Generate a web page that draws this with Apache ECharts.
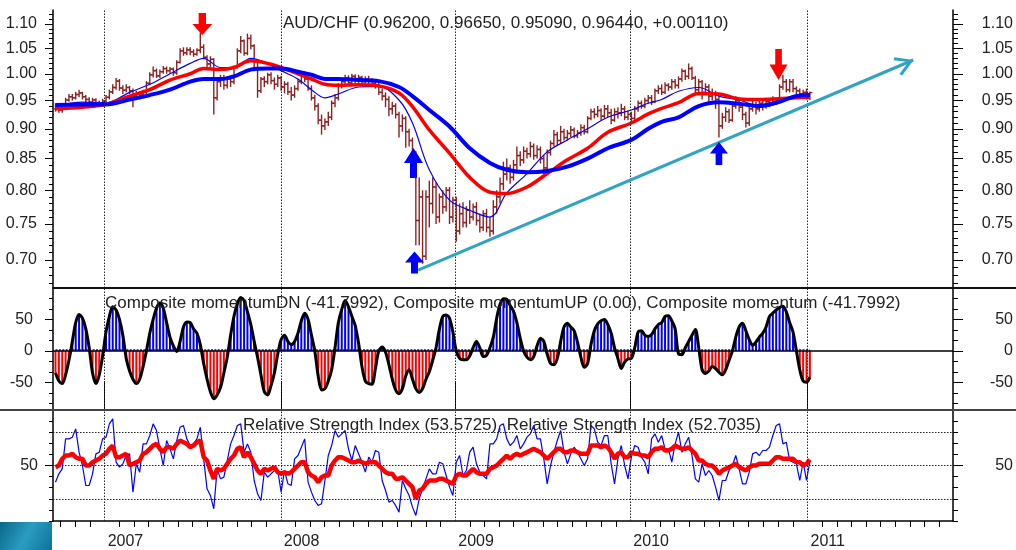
<!DOCTYPE html>
<html>
<head>
<meta charset="utf-8">
<script src="https://cdn.jsdelivr.net/npm/echarts@6/dist/echarts.min.js"></script>
<style>html,body{margin:0;padding:0;background:#fff}#main{width:1016px;height:550px}</style>
</head>
<body>
<div id="main"></div>
<script>
// weekly AUD/CHF bars, week 0 = mid Sept 2006 (x axis is in weeks)
var priceOpen = [
 0.935,0.938,0.933,0.936,0.951,0.957,0.955,0.961,0.964,0.957,
 0.952,0.947,0.951,0.946,0.944,0.949,0.956,0.966,0.974,0.986,
 0.973,0.969,0.974,0.968,0.958,0.963,0.960,0.966,0.982,0.998,
 1.006,0.996,1.004,1.010,1.006,1.009,1.002,1.022,1.045,1.041,
 1.047,1.043,1.038,1.046,1.052,1.032,1.019,1.028,0.955,0.985,
 0.992,0.978,0.990,0.985,1.012,1.045,1.065,1.040,1.070,1.055,
 1.010,0.968,0.990,0.985,0.998,0.987,0.980,0.992,0.975,0.980,
 0.966,0.960,0.972,0.985,0.998,0.990,0.972,0.955,0.940,0.915,
 0.905,0.912,0.920,0.945,0.955,0.978,0.985,0.992,0.983,0.995,
 0.988,0.993,0.985,0.990,0.986,0.982,0.978,0.965,0.958,0.952,
 0.935,0.940,0.925,0.905,0.918,0.895,0.880,0.860,0.755,0.790,
 0.705,0.790,0.780,0.805,0.760,0.790,0.775,0.800,0.760,0.785,
 0.740,0.765,0.752,0.770,0.760,0.775,0.755,0.745,0.765,0.745,
 0.740,0.775,0.790,0.810,0.825,0.835,0.820,0.840,0.855,0.848,
 0.862,0.858,0.870,0.855,0.865,0.850,0.835,0.860,0.875,0.890,
 0.880,0.895,0.885,0.892,0.898,0.888,0.893,0.902,0.895,0.918,
 0.930,0.925,0.932,0.922,0.935,0.928,0.915,0.930,0.928,0.935,
 0.920,0.925,0.918,0.935,0.945,0.940,0.950,0.955,0.948,0.968,
 0.972,0.965,0.978,0.975,0.985,0.978,0.990,1.005,0.995,1.010,
 0.992,0.970,0.985,0.965,0.975,0.958,0.962,0.952,0.905,0.920,
 0.930,0.915,0.940,0.950,0.938,0.925,0.910,0.935,0.942,0.935,
 0.945,0.940,0.948,0.945,0.952,0.948,0.975,0.985,0.970,0.985,
 0.972,0.968,0.962,0.965,0.962];
var priceHigh = [
 0.945,0.942,0.940,0.955,0.962,0.962,0.966,0.970,0.966,0.960,
 0.956,0.955,0.954,0.950,0.953,0.960,0.970,0.980,0.992,0.990,
 0.978,0.980,0.977,0.972,0.968,0.967,0.970,0.986,1.003,1.014,
 1.010,1.008,1.015,1.014,1.013,1.012,1.026,1.050,1.052,1.052,
 1.052,1.048,1.050,1.082,1.058,1.036,1.034,1.030,0.990,0.998,
 0.998,0.995,0.994,1.016,1.050,1.075,1.068,1.080,1.078,1.058,
 1.025,0.994,0.995,1.002,1.003,0.993,0.998,0.996,0.986,0.985,
 0.975,0.978,0.990,1.003,1.005,0.995,0.978,0.960,0.945,0.925,
 0.918,0.930,0.950,0.962,0.982,0.992,0.998,0.997,1.000,0.999,
 0.998,0.996,0.995,0.996,0.992,0.988,0.983,0.972,0.965,0.958,
 0.948,0.945,0.930,0.925,0.922,0.900,0.885,0.862,0.820,0.800,
 0.800,0.815,0.820,0.812,0.795,0.800,0.805,0.805,0.790,0.790,
 0.780,0.782,0.776,0.785,0.780,0.782,0.765,0.770,0.772,0.760,
 0.785,0.800,0.820,0.845,0.850,0.840,0.848,0.870,0.862,0.870,
 0.868,0.878,0.875,0.872,0.870,0.856,0.865,0.880,0.898,0.895,
 0.905,0.900,0.898,0.905,0.902,0.898,0.908,0.907,0.922,0.935,
 0.936,0.940,0.936,0.942,0.942,0.935,0.936,0.938,0.944,0.940,
 0.932,0.930,0.940,0.950,0.950,0.955,0.960,0.960,0.972,0.978,
 0.980,0.984,0.982,0.990,0.990,0.995,1.010,1.008,1.020,1.014,
 0.996,0.990,0.988,0.982,0.980,0.972,0.968,0.958,0.928,0.938,
 0.935,0.945,0.958,0.955,0.945,0.930,0.940,0.950,0.948,0.950,
 0.952,0.955,0.952,0.958,0.956,0.980,0.998,0.990,0.990,0.990,
 0.976,0.972,0.970,0.972,0.9665];
var priceLow = [
 0.930,0.928,0.928,0.933,0.948,0.950,0.952,0.956,0.952,0.945,
 0.940,0.944,0.940,0.938,0.940,0.945,0.952,0.962,0.970,0.968,
 0.962,0.965,0.962,0.938,0.954,0.952,0.955,0.962,0.978,0.993,
 0.992,0.992,1.000,1.000,1.001,0.996,0.998,1.020,1.035,1.036,
 1.036,1.033,1.035,1.040,1.028,1.010,1.012,0.925,0.950,0.975,
 0.970,0.972,0.975,0.980,1.010,1.040,1.035,1.036,1.048,1.005,
 0.955,0.964,0.975,0.980,0.980,0.970,0.975,0.968,0.963,0.960,
 0.950,0.955,0.968,0.980,0.984,0.968,0.950,0.932,0.908,0.890,
 0.898,0.905,0.915,0.938,0.950,0.972,0.980,0.977,0.979,0.982,
 0.982,0.980,0.980,0.978,0.976,0.972,0.960,0.950,0.938,0.922,
 0.925,0.918,0.885,0.895,0.868,0.870,0.850,0.720,0.720,0.695,
 0.700,0.745,0.765,0.750,0.752,0.765,0.768,0.750,0.752,0.725,
 0.735,0.745,0.745,0.750,0.755,0.748,0.738,0.740,0.738,0.732,
 0.735,0.765,0.780,0.800,0.815,0.810,0.815,0.832,0.838,0.842,
 0.850,0.852,0.848,0.850,0.842,0.825,0.830,0.855,0.870,0.872,
 0.875,0.880,0.880,0.886,0.884,0.884,0.888,0.890,0.892,0.915,
 0.918,0.920,0.915,0.918,0.920,0.908,0.912,0.918,0.922,0.915,
 0.915,0.912,0.915,0.930,0.935,0.936,0.945,0.942,0.945,0.962,
 0.960,0.962,0.968,0.970,0.972,0.972,0.985,0.988,0.990,0.988,
 0.960,0.965,0.952,0.960,0.945,0.950,0.935,0.885,0.900,0.912,
 0.910,0.912,0.935,0.930,0.915,0.902,0.905,0.930,0.925,0.930,
 0.932,0.935,0.938,0.940,0.942,0.945,0.970,0.965,0.965,0.965,
 0.960,0.955,0.955,0.952,0.9509];
var priceClose = [
 0.938,0.933,0.936,0.951,0.957,0.955,0.961,0.964,0.957,0.952,
 0.947,0.951,0.946,0.944,0.949,0.956,0.966,0.974,0.986,0.973,
 0.969,0.974,0.968,0.958,0.963,0.960,0.966,0.982,0.998,1.006,
 0.996,1.004,1.010,1.006,1.009,1.002,1.022,1.045,1.041,1.047,
 1.043,1.038,1.046,1.052,1.032,1.019,1.028,0.955,0.985,0.992,
 0.978,0.990,0.985,1.012,1.045,1.065,1.040,1.070,1.055,1.010,
 0.968,0.990,0.985,0.998,0.987,0.980,0.992,0.975,0.980,0.966,
 0.960,0.972,0.985,0.998,0.990,0.972,0.955,0.940,0.915,0.905,
 0.912,0.920,0.945,0.955,0.978,0.985,0.992,0.983,0.995,0.988,
 0.993,0.985,0.990,0.986,0.982,0.978,0.965,0.958,0.952,0.935,
 0.940,0.925,0.905,0.918,0.895,0.880,0.860,0.755,0.790,0.705,
 0.790,0.780,0.805,0.760,0.790,0.775,0.800,0.760,0.785,0.740,
 0.765,0.752,0.770,0.760,0.775,0.755,0.745,0.765,0.745,0.740,
 0.775,0.790,0.810,0.825,0.835,0.820,0.840,0.855,0.848,0.862,
 0.858,0.870,0.855,0.865,0.850,0.835,0.860,0.875,0.890,0.880,
 0.895,0.885,0.892,0.898,0.888,0.893,0.902,0.895,0.918,0.930,
 0.925,0.932,0.922,0.935,0.928,0.915,0.930,0.928,0.935,0.920,
 0.925,0.918,0.935,0.945,0.940,0.950,0.955,0.948,0.968,0.972,
 0.965,0.978,0.975,0.985,0.978,0.990,1.005,0.995,1.010,0.992,
 0.970,0.985,0.965,0.975,0.958,0.962,0.952,0.905,0.920,0.930,
 0.915,0.940,0.950,0.938,0.925,0.910,0.935,0.942,0.935,0.945,
 0.940,0.948,0.945,0.952,0.948,0.975,0.985,0.970,0.985,0.972,
 0.968,0.962,0.965,0.960,0.9644];

// moving averages, read at these weeks
var maWeeks = [0,8,15,22,28,34,40,44,49,53,58,63,67,72,76,80,84,90,96,102,106,111,117,123,129,134,140,146,152,158,164,171,176,180,185,191,197,203,209,214,220,224];
var maFast = [0.940,0.947,0.946,0.965,0.980,1.000,1.020,1.030,1.012,1.012,1.030,1.020,1.006,0.990,0.970,0.955,0.962,0.975,0.976,0.951,0.910,0.832,0.785,0.770,0.760,0.796,0.826,0.861,0.881,0.900,0.920,0.933,0.945,0.952,0.967,0.974,0.958,0.951,0.940,0.945,0.960,0.961];
var maMid = [0.935,0.938,0.943,0.958,0.970,0.988,1.000,1.010,1.008,1.012,1.025,1.020,1.012,1.000,0.990,0.980,0.978,0.979,0.977,0.964,0.939,0.898,0.859,0.820,0.797,0.795,0.805,0.826,0.848,0.867,0.894,0.910,0.926,0.936,0.946,0.963,0.962,0.953,0.952,0.953,0.955,0.956];
var maSlow = [0.942,0.943,0.943,0.952,0.960,0.970,0.985,0.990,0.990,0.995,1.008,1.010,1.010,1.004,0.998,0.990,0.990,0.988,0.986,0.975,0.958,0.933,0.904,0.867,0.843,0.832,0.828,0.830,0.837,0.850,0.867,0.881,0.900,0.912,0.920,0.940,0.947,0.944,0.940,0.946,0.958,0.960];

// composite momentum, one value per week
var momentum = [
 -35,-48,-52,-38,-15,15,45,58,52,35,
 5,-35,-52,-38,-8,30,55,70,65,50,
 25,-12,-32,-45,-52,-45,-25,0,28,50,
 68,76,68,45,22,8,-1,15,38,46,
 45,35,28,10,-20,-45,-65,-76,-70,-58,
 -35,-10,25,55,75,85,80,62,42,15,
 -10,-38,-65,-70,-55,-35,-5,18,25,15,
 10,15,28,48,60,50,25,0,-40,-62,
 -60,-48,-30,5,45,66,80,70,55,40,
 12,-25,-48,-52,-53,-28,0,6,-2,-22,
 -45,-62,-68,-60,-40,-30,-45,-60,-66,-60,
 -45,-33,-15,5,35,55,57,52,30,0,
 -12,-14,-14,-8,5,15,5,-9,-7,5,
 22,52,74,83,82,72,63,45,20,0,
 -10,-14,-9,8,20,15,-5,-20,-22,-12,
 15,38,44,38,32,14,-10,-26,-20,10,
 32,43,48,50,42,28,5,-12,-28,-18,
 -13,-12,5,30,32,25,23,26,35,42,
 45,55,56,48,35,-5,-6,5,15,25,
 34,5,-30,-36,-32,-25,-28,-34,-38,-30,
 -15,0,22,38,44,32,18,9,14,22,
 28,38,55,60,65,69,71,62,45,30,
 0,-30,-48,-50,-41.7992];

// RSI, fast (thin blue) and slow (thick red), one value per week
var rsiFast = [
 40,45,48,66,66,67,72,58,50,38,
 38,45,57,58,66,67,75,78,52,49,
 51,56,57,34,51,46,63,63,68,75,
 71,60,50,65,60,54,65,73,74,66,
 62,63,66,73,54,36,32,24,48,42,
 43,53,63,68,74,75,58,63,58,41,
 33,29,46,43,45,47,47,34,47,39,
 38,54,56,61,66,40,34,29,26,27,
 41,56,62,71,67,69,71,60,53,62,
 57,52,46,55,52,59,58,41,35,28,
 29,26,22,41,36,32,25,20,30,36,
 42,48,45,45,52,51,44,37,32,52,
 56,44,47,58,61,51,46,44,42,63,
 63,66,74,75,66,62,64,68,60,63,
 67,69,74,66,66,54,39,50,58,65,
 71,58,51,57,61,58,54,50,54,74,
 72,64,62,68,68,51,39,54,62,50,
 42,55,62,61,55,52,45,66,69,64,
 68,60,60,52,63,70,58,63,67,56,
 42,40,51,44,47,44,37,29,41,41,
 47,50,56,48,39,39,46,57,58,56,
 59,59,61,68,74,75,63,64,53,52,
 51,41,52,41,52.7035];
var rsiSlow = [
 49,50,54,56,56,57,55,54,54,50,
 50,52,53,54,56,57,60,62,55,55,
 56,57,50,51,52,53,57,58,60,62,
 63,60,58,61,61,60,63,65,64,63,
 61,62,64,65,55,53,47,42,48,47,
 48,51,54,56,60,61,55,58,55,51,
 47,45,48,47,48,49,46,45,46,45,
 46,48,50,52,52,46,44,43,40,43,
 44,44,50,53,55,55,54,53,52,52,
 53,52,51,52,52,52,50,48,46,45,
 45,42,42,43,41,39,37,30,35,36,
 39,41,41,41,42,42,41,40,39,44,
 45,44,44,46,48,46,45,45,45,48,
 49,50,52,54,56,54,56,57,56,57,
 58,59,60,59,58,56,54,56,58,60,
 60,58,58,59,59,58,57,57,57,62,
 62,62,61,62,61,58,54,57,58,55,
 55,58,57,57,56,56,55,58,60,60,
 61,59,59,60,62,61,60,60,61,59,
 57,53,53,51,50,50,48,45,47,48,
 49,50,51,49,48,47,49,50,50,51,
 51,51,51,53,55,55,54,54,54,54,
 52,52,50,51,53.5725];

// axis positions (weeks from first bar)
var yearPos = [14.6, 66.9, 118.7, 170.7, 223.3];
var yearLabels = ['2007', '2008', '2009', '2010', '2011'];
var priceTicks = [0.70, 0.75, 0.80, 0.85, 0.90, 0.95, 1.00, 1.05, 1.10];

// annotations
var trendWeeks = [107.7, 254.7];
var trendPrice = [0.6867, 1.0267];
var arrowWeeks = [43.6, 214.7, 106.3, 106.6, 197.0];
var arrowPrice = [1.10, 1.018, 0.843, 0.6966, 0.8584];
var arrowDown = [true, true, false, false, false];
var arrowSizes = [[20, 22], [18, 31], [19, 30], [19, 22], [18, 23]];

var xMin = -0.74, xMax = 266.5;
var pMin = -0.4103, pMax = 0.1221;
var font = 'Liberation Sans';

var monthTicks = [];
for (var k = 1; k <= 3; k++) monthTicks.push(yearPos[0] - k * 52.18 / 12);
for (var j = 0; j < yearPos.length - 1; j++) {
  for (var m = 1; m < 12; m++) monthTicks.push(yearPos[j] + m * (yearPos[j + 1] - yearPos[j]) / 12);
}
for (var k = 1; k <= 9; k++) monthTicks.push(yearPos[4] + k * 52.18 / 12);

var priceMinor = [];
for (var p = 67; p <= 112; p++) priceMinor.push(Math.log(p / 100));
var momMinor = [];
for (var k = -5; k <= 6; k++) if (k % 3) momMinor.push(k * 50 / 3);
var rsiMinor = [];
for (var k = -5; k <= 5; k++) if (k) rsiMinor.push(50 + k * 20 / 3);

function sideAxes(grid, min, max, major, minor, fmt, leftMargin) {
  function ax(pos, vals, len, label, line) {
    return {
      type: 'value', gridIndex: grid, min: min, max: max, position: pos,
      splitLine: {show: false},
      axisLine: {show: line, onZero: false, lineStyle: {color: '#000', width: 1.5}},
      axisTick: {show: true, customValues: vals, length: len, lineStyle: {color: '#000', width: 1}},
      axisLabel: label ? {
        show: true, customValues: vals, formatter: fmt, align: 'right',
        margin: pos === 'left' ? leftMargin : 60,
        fontFamily: font, fontSize: 16, color: '#222'
      } : {show: false}
    };
  }
  return [ax('left', major, 8, true, true), ax('left', minor, 4, false, false),
          ax('right', major, 10, true, true), ax('right', minor, 5, false, false)];
}

var yAxes = []
  .concat(sideAxes(0, pMin, pMax, priceTicks.map(Math.log), priceMinor,
    function (v) { return Math.exp(v).toFixed(2); }, 16))
  .concat(sideAxes(1, -94, 100, [-50, 0, 50], momMinor,
    function (v) { return String(Math.round(v)); }, 20))
  .concat(sideAxes(2, 50 - 100 / 3, 50 + 100 / 3, [50], rsiMinor,
    function (v) { return String(Math.round(v)); }, 15));

function plainX(grid) {
  return {type: 'value', gridIndex: grid, min: xMin, max: xMax,
    axisLine: {show: false, onZero: false}, axisTick: {show: false},
    axisLabel: {show: false}, splitLine: {show: false}};
}

var yearLines = yearPos.map(function (p) { return {xAxis: p}; });
var dotted = {color: '#222', type: [1.5, 1.5], width: 1};
var chevron = 'path://M10,0L10.01,0.01L10,0.02Z M10,18L20,34.5L17.6,36.5L10,23.5L2.4,36.5L0,34.5Z';
var upPath = 'path://M9.5,0L19,15L13,15L13,30L6,30L6,15L0,15Z';
var downPath = 'path://M6,0L13,0L13,15L19,15L9.5,30L0,15L6,15Z';

function maSeries(vals, color, width, z) {
  return {
    type: 'line', xAxisIndex: 0, yAxisIndex: 0, z: z,
    data: maWeeks.map(function (w, i) { return [w, Math.log(vals[i])]; }),
    smooth: 0.35, symbol: 'none', lineStyle: {color: color, width: width}
  };
}

var trendStyle = {color: '#31a3c3', width: 3, type: 'solid'};
var slowMA = maSeries(maSlow, '#0000ff', 4, 4);
slowMA.markLine = {
  silent: true, animation: false, symbol: 'none', label: {show: false},
  lineStyle: dotted,
  data: yearLines.concat([[
    {coord: [trendWeeks[0], Math.log(trendPrice[0])], symbol: 'none', lineStyle: trendStyle},
    {coord: [trendWeeks[1], Math.log(trendPrice[1])], symbol: chevron, symbolSize: [20, 36.5], lineStyle: trendStyle}
  ]])
};
slowMA.markPoint = {
  silent: true, animation: false, label: {show: false},
  data: arrowWeeks.map(function (w, i) {
    return {
      coord: [w, Math.log(arrowPrice[i])],
      symbol: arrowDown[i] ? downPath : upPath,
      symbolSize: arrowSizes[i],
      itemStyle: {color: arrowDown[i] ? '#ff0000' : '#0000ff'}
    };
  })
};

var option = {
  animation: false,
  backgroundColor: '#fff',
  title: [
    {text: 'AUD/CHF (0.96200, 0.96650, 0.95090, 0.96440, +0.00110)', left: 283, top: 15},
    {text: 'Composite momentumDN (-41.7992), Composite momentumUP (0.00), Composite momentum (-41.7992)', left: 105, top: 295},
    {text: 'Relative Strength Index (53.5725), Relative Strength Index (52.7035)', left: 243, top: 417}
  ].map(function (t) {
    t.padding = 0;
    t.textStyle = {fontFamily: font, fontSize: 17, fontWeight: 'normal', color: '#222'};
    return t;
  }),
  grid: [
    {left: 53, right: 59, top: 10, height: 278},
    {left: 53, right: 59, top: 288, height: 122},
    {left: 53, right: 59, top: 410, height: 111}
  ],
  xAxis: [
    plainX(0), plainX(1),
    {
      type: 'value', gridIndex: 2, min: xMin, max: xMax,
      axisLine: {show: true, onZero: false, lineStyle: {color: '#000', width: 1.5}},
      axisTick: {show: true, customValues: monthTicks, length: 6, lineStyle: {color: '#000'}},
      axisLabel: {
        show: true, customValues: yearPos, align: 'left', margin: 13, padding: [0, 0, 0, 3],
        fontFamily: font, fontSize: 16, color: '#222',
        formatter: function (v) { var i = yearPos.indexOf(v); return i >= 0 ? yearLabels[i] : ''; }
      },
      splitLine: {show: false}
    },
    {
      type: 'value', gridIndex: 2, min: xMin, max: xMax,
      axisLine: {show: false, onZero: false},
      axisTick: {show: true, customValues: yearPos, length: 29, lineStyle: {color: '#000'}},
      axisLabel: {show: false}, splitLine: {show: false}
    }
  ],
  yAxis: yAxes,
  graphic: [
    {type: 'line', shape: {x1: 53, y1: 288, x2: 1016, y2: 288}, style: {stroke: '#111', lineWidth: 2}, z: 100},
    {type: 'line', shape: {x1: 0, y1: 410, x2: 1016, y2: 410}, style: {stroke: '#444', lineWidth: 2}, z: 100},
    {type: 'rect', shape: {x: 0, y: 522, width: 52, height: 28}, z: 100,
      style: {fill: {type: 'linear', x: 0, y: 0, x2: 1, y2: 1,
        colorStops: [{offset: 0, color: '#0b6788'}, {offset: 0.5, color: '#2a9cc2'}, {offset: 1, color: '#0d7399'}]}}}
  ],
  series: [
    {
      type: 'custom', xAxisIndex: 0, yAxisIndex: 0, z: 2,
      data: priceClose.map(function (c, i) {
        return [i, Math.log(priceOpen[i]), Math.log(priceHigh[i]), Math.log(priceLow[i]), Math.log(c)];
      }),
      encode: {x: 0, y: [1, 2, 3, 4]},
      renderItem: function (params, api) {
        var x = api.value(0);
        var po = api.coord([x, api.value(1)]);
        var ph = api.coord([x, api.value(2)]);
        var pl = api.coord([x, api.value(3)]);
        var pc = api.coord([x, api.value(4)]);
        var st = {stroke: '#8b2323', lineWidth: 1.4};
        return {type: 'group', children: [
          {type: 'line', shape: {x1: ph[0], y1: ph[1], x2: pl[0], y2: pl[1]}, style: st},
          {type: 'line', shape: {x1: po[0] - 2.5, y1: po[1], x2: po[0], y2: po[1]}, style: st},
          {type: 'line', shape: {x1: pc[0], y1: pc[1], x2: pc[0] + 2.5, y2: pc[1]}, style: st}
        ]};
      }
    },
    maSeries(maFast, '#0000ff', 1.2, 3),
    maSeries(maMid, '#ff0000', 3.5, 3),
    slowMA,
    {
      type: 'bar', xAxisIndex: 1, yAxisIndex: 4, barWidth: 2, barGap: '-100%',
      data: momentum.map(function (v, i) { return [i, v < 0 ? v : 0]; }),
      itemStyle: {color: '#ff0000'}
    },
    {
      type: 'bar', xAxisIndex: 1, yAxisIndex: 4, barWidth: 2, barGap: '-100%',
      data: momentum.map(function (v, i) { return [i, v > 0 ? v : 0]; }),
      itemStyle: {color: '#0000ff'},
      markLine: {
        silent: true, animation: false, symbol: 'none', label: {show: false},
        data: [
          [{coord: [0, 2.4], lineStyle: {color: '#0000ff', width: 1.5, type: [2, 1.38]}},
           {coord: [momentum.length - 1, 2.4]}]
        ]
      }
    },
    {
      type: 'line', xAxisIndex: 1, yAxisIndex: 4, z: 5,
      data: momentum.map(function (v, i) { return [i, v]; }),
      smooth: 0.3, symbol: 'none', lineStyle: {color: '#000', width: 3},
      markLine: {
        silent: true, animation: false, symbol: 'none', label: {show: false},
        lineStyle: dotted,
        data: yearLines.concat([{yAxis: 0, lineStyle: {color: '#000', width: 1.5, type: 'solid'}}])
      }
    },
    {
      type: 'line', xAxisIndex: 2, yAxisIndex: 8, z: 3,
      data: rsiFast.map(function (v, i) { return [i, v]; }),
      symbol: 'none', lineStyle: {color: '#0000ff', width: 1.2},
      markLine: {
        silent: true, animation: false, symbol: 'none', label: {show: false},
        lineStyle: dotted,
        data: yearLines.concat([{yAxis: 70}, {yAxis: 50}, {yAxis: 30}])
      }
    },
    {
      type: 'line', xAxisIndex: 2, yAxisIndex: 8, z: 4,
      data: rsiSlow.map(function (v, i) { return [i, v]; }),
      symbol: 'none', lineStyle: {color: '#ff0000', width: 4.5}
    }
  ]
};

var chart = echarts.init(document.getElementById('main'));
chart.setOption(option);
</script>
</body>
</html>
